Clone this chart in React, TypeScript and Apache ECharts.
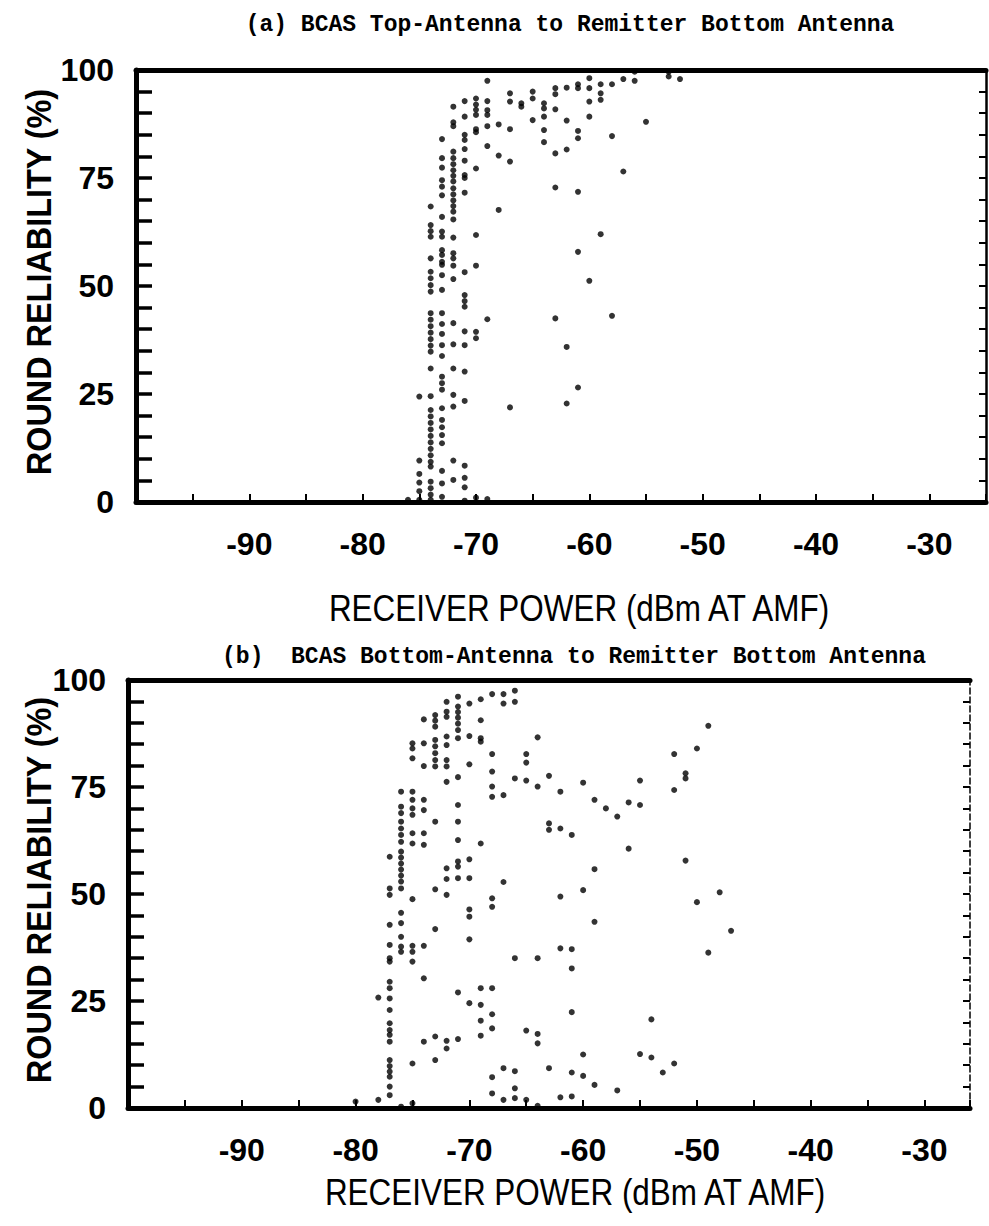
import React, { useEffect, useRef } from "react";
import * as echarts from "echarts";

// ---------- DATA ----------
const titleA = "(a) BCAS Top-Antenna to Remitter Bottom Antenna";
const titleB = "(b)  BCAS Bottom-Antenna to Remitter Bottom Antenna";
const xAxisTitle = "RECEIVER POWER (dBm AT AMF)";
const yAxisTitle = "ROUND RELIABILITY (%)";

const xTickLabels = [-90, -80, -70, -60, -50, -40, -30];
const yTickLabels = [0, 25, 50, 75, 100];

// (a) receiver power columns (dBm) and reliability values (%) in each column
const topPowers = [-76, -75, -74, -73, -72, -71, -70, -69, -68, -67, -66, -65, -64, -63, -62, -61, -60, -59, -58, -57, -56, -55, -53, -52];
const topReliability = [
  [0.5],
  [24.4, 9.6, 6.5, 4.5, 2.5, 0.5],
  [68.4, 64.1, 62.7, 61.4, 56.4, 53.3, 51.8, 50.2, 48.7, 43.7, 42.2, 40.7, 39.2, 37.7, 36.2, 34.8, 30.9, 24.5, 21.3, 19.8, 18.3, 16.8, 15.3, 13.8, 12.3, 10.8, 9.3, 8.2, 4.7, 3.2, 1.7, 0.5],
  [84, 79.6, 77.4, 74.5, 73, 71, 66, 62.6, 61.4, 58.3, 57.2, 55.6, 54.9, 52.5, 49.1, 43.7, 41.2, 38.9, 36.3, 33.8, 29, 27.5, 26, 21.7, 19, 17.3, 15.5, 13.6, 7.2, 4.3, 1.2],
  [91.5, 87.9, 87, 81.1, 79.6, 78.2, 76.8, 75.5, 74.2, 72.6, 71.2, 69.8, 68.5, 67.2, 65.4, 61.2, 57.6, 56.4, 54.7, 51.6, 41.4, 36.5, 30.9, 24.8, 22.1, 9.6, 5.1],
  [92.8, 89.2, 85, 83.8, 81.7, 79, 75.7, 75, 71.6, 53.2, 47.9, 46.5, 45.2, 39.5, 36.3, 30.2, 23.4, 8.4, 5.6, 3.4, 0.3],
  [93.4, 92, 90.8, 89.6, 86.3, 85.6, 77.2, 61.8, 54.7, 39.4, 37.9, 1],
  [97.5, 92.8, 90.7, 89.6, 87, 82.4, 42.3, 0.7],
  [87.4, 80.2, 67.6],
  [94.6, 92.7, 86.3, 78.8, 21.9],
  [92.3, 91.5],
  [95, 93.4, 88.4],
  [92.3, 91.1, 89.2, 86.1, 83.3],
  [95.8, 94.4, 90.9, 80.7, 72.8, 42.5],
  [95.9, 88.3, 81.6, 35.9, 22.8],
  [96.7, 95.8, 85.9, 84.2, 71.8, 57.9, 26.5],
  [98.1, 95.8, 92.7, 89.2, 51.2],
  [96.7, 94.6, 93.1, 62.0],
  [96.7, 84.7, 43.1],
  [97.9, 76.5],
  [99.6, 97.5],
  [88.0],
  [99.6, 98.5],
  [97.9],
];

// (b) receiver power columns (dBm) and reliability values (%) in each column
const bottomPowers = [-80, -78, -77, -76, -75, -74, -73, -72, -71, -70, -69, -68, -67, -66, -65, -64, -63, -62, -61, -60, -59, -58, -57, -56, -55, -54, -53, -52, -51, -50, -49, -48, -47];
const bottomReliability = [
  [1.5],
  [25.8, 1.9],
  [58.7, 51.3, 49.8, 42.8, 38.1, 35, 34.2, 29.5, 28, 25.6, 22.9, 19.8, 18.2, 17.1, 15.5, 11.2, 9.8, 8.5, 7.3, 5, 3],
  [73.9, 70.4, 68.9, 66.9, 65.3, 63.8, 62.2, 59.9, 58.5, 57.1, 55.7, 54.3, 52.9, 51.3, 45.6, 43.2, 40, 37.7, 36.5, 0.3],
  [85.2, 84, 81.7, 73.9, 72, 70, 68.5, 64.2, 61.8, 48.8, 37.9, 36.5, 34.2, 10.4, 1.1],
  [90.8, 85.2, 79.9, 72, 69.6, 64.2, 61.5, 37.9, 30.3, 15.5],
  [91.8, 90.5, 89.1, 86, 84.5, 82.9, 81.3, 79.8, 66.9, 51.1, 41.8, 16.7, 11.2],
  [94.9, 92.6, 91.4, 86.8, 84.8, 81.3, 79.8, 76.2, 56, 53.5, 49.8, 15.7, 13.9],
  [96.1, 93.8, 92.5, 91.2, 89.8, 88.3, 86.4, 77.3, 70.8, 66.9, 62.6, 57.6, 56.4, 53.7, 27, 16.1],
  [94.5, 86.9, 80.3, 58.1, 53.7, 46.4, 44.7, 39.4, 24.5],
  [95.5, 90.6, 86.4, 85.6, 61.8, 28, 24.1, 20.4, 16.9],
  [96.7, 82.7, 78.6, 75.1, 72.7, 49, 47, 28, 21.9, 18.6, 7.2, 3.4],
  [96.7, 94.5, 73.1, 52.8, 9.3, 1.9],
  [97.5, 94.9, 77.0, 35, 8.6, 4.6, 2.3],
  [82.7, 80.7, 76.5, 18.1, 1.9],
  [86.6, 75.1, 35, 17.3, 15.1, 0.5],
  [77.6, 66.5, 65, 9.3],
  [73.9, 65.3, 49.4, 37.3, 2.5],
  [63.8, 37.1, 32.6, 22.4, 8.3, 2.7],
  [76.0, 50.9, 12.5, 7.5],
  [72, 55.8, 43.5, 5.4],
  [70.0],
  [68.1, 4.1],
  [71.4, 60.6],
  [76.5, 70.8, 12.6],
  [20.7, 11.8],
  [8.3],
  [82.7, 74.3, 10.4],
  [78.2, 77.0, 57.8],
  [84.0, 48.1],
  [89.3, 36.3],
  [50.4],
  [41.4],
];

// ---------- BUILD ----------
function toPoints(powers: number[], rel: number[][]) {
  const pts: number[][] = [];
  powers.forEach((p, i) => rel[i].forEach((r) => pts.push([p, r])));
  return pts;
}

const tickFont = "'Liberation Sans', Arial, sans-serif";

function panelAxes(gridIndex: number, xMax: number, rightWidth: number, rightType: string) {
  const xAxes = [
    {
      type: "value",
      gridIndex,
      position: "bottom",
      min: -100,
      max: xMax,
      interval: 5,
      splitLine: { show: false },
      axisLine: { show: true, onZero: false, lineStyle: { color: "#000", width: 5 } },
      axisTick: { show: true, inside: true, length: 8, lineStyle: { color: "#000", width: 2 } },
      axisLabel: {
        show: true,
        interval: 0,
        margin: 26,
        color: "#000",
        fontFamily: tickFont,
        fontWeight: "bold",
        fontSize: 32,
        formatter: (v: number) => (xTickLabels.includes(v) ? String(v) : ""),
      },
    },
    {
      type: "value",
      gridIndex,
      position: "top",
      min: -100,
      max: xMax,
      interval: 5,
      splitLine: { show: false },
      axisLine: { show: true, onZero: false, lineStyle: { color: "#000", width: 5 } },
      axisTick: { show: false },
      axisLabel: { show: false },
    },
  ];
  const yAxes = [
    {
      type: "value",
      gridIndex,
      position: "left",
      min: 0,
      max: 100,
      interval: 5,
      splitLine: { show: false },
      axisLine: { show: true, onZero: false, lineStyle: { color: "#000", width: 5 } },
      axisTick: { show: true, inside: true, length: 16, lineStyle: { color: "#000", width: 3.5 } },
      axisLabel: {
        show: true,
        interval: 0,
        margin: 22,
        color: "#000",
        fontFamily: tickFont,
        fontWeight: "bold",
        fontSize: 32,
        formatter: (v: number) => (yTickLabels.includes(v) ? String(v) : ""),
      },
    },
    {
      type: "value",
      gridIndex,
      position: "right",
      min: 0,
      max: 100,
      interval: 5,
      splitLine: { show: false },
      axisLine: { show: true, onZero: false, lineStyle: { color: "#000", width: rightWidth, type: rightType } },
      axisTick: { show: true, inside: true, length: 7, lineStyle: { color: "#000", width: 2 } },
      axisLabel: { show: false },
    },
  ];
  return { xAxes, yAxes };
}

export default function App() {
  const ref = useRef<HTMLDivElement>(null);

  useEffect(() => {
    if (!ref.current) return;
    const chart = echarts.init(ref.current, undefined, { renderer: "svg" });

    const a = panelAxes(0, -25, 2.5, "solid");
    const b = panelAxes(1, -26, 1.5, "dashed");

    const titleStyle = {
      fontFamily: "'Liberation Mono', 'DejaVu Sans Mono', monospace",
      fontWeight: "bold",
      fontSize: 23,
      fill: "#000",
      align: "center",
      verticalAlign: "middle",
    };
    const xTitleStyle = {
      text: xAxisTitle,
      fontFamily: "'Liberation Sans', Arial, sans-serif",
      fontSize: 37,
      fill: "#000",
      align: "center",
      verticalAlign: "middle",
    };
    const yTitleStyle = {
      text: yAxisTitle,
      fontFamily: "'Liberation Sans', Arial, sans-serif",
      fontWeight: "bold",
      fontSize: 36,
      fill: "#000",
      align: "center",
      verticalAlign: "middle",
    };

    chart.setOption({
      animation: false,
      backgroundColor: "#fff",
      grid: [
        { left: 136, top: 70, width: 852, height: 432 },
        { left: 128, top: 680, width: 842, height: 428 },
      ],
      xAxis: [...a.xAxes, ...b.xAxes],
      yAxis: [...a.yAxes, ...b.yAxes],
      series: [
        {
          type: "scatter",
          xAxisIndex: 0,
          yAxisIndex: 0,
          symbol: "circle",
          symbolSize: 6,
          itemStyle: { color: "#000" },
          data: toPoints(topPowers, topReliability),
        },
        {
          type: "scatter",
          xAxisIndex: 2,
          yAxisIndex: 2,
          symbol: "circle",
          symbolSize: 6,
          itemStyle: { color: "#000" },
          data: toPoints(bottomPowers, bottomReliability),
        },
      ],
      graphic: [
        { type: "text", x: 570, y: 25, style: { ...titleStyle, text: titleA } },
        { type: "text", x: 574, y: 657, style: { ...titleStyle, text: titleB } },
        { type: "text", x: 579, y: 608, scaleX: 0.85, style: xTitleStyle },
        { type: "text", x: 575, y: 1192, scaleX: 0.85, style: xTitleStyle },
        { type: "text", x: 38, y: 282, rotation: Math.PI / 2, scaleX: 0.9, style: yTitleStyle },
        { type: "text", x: 38, y: 890, rotation: Math.PI / 2, scaleX: 0.9, style: yTitleStyle },
      ],
    });

    return () => chart.dispose();
  }, []);

  return (
    <div
      ref={ref}
      style={{ position: "absolute", left: 0, top: 0, width: 989, height: 1226, background: "#fff" }}
    />
  );
}
